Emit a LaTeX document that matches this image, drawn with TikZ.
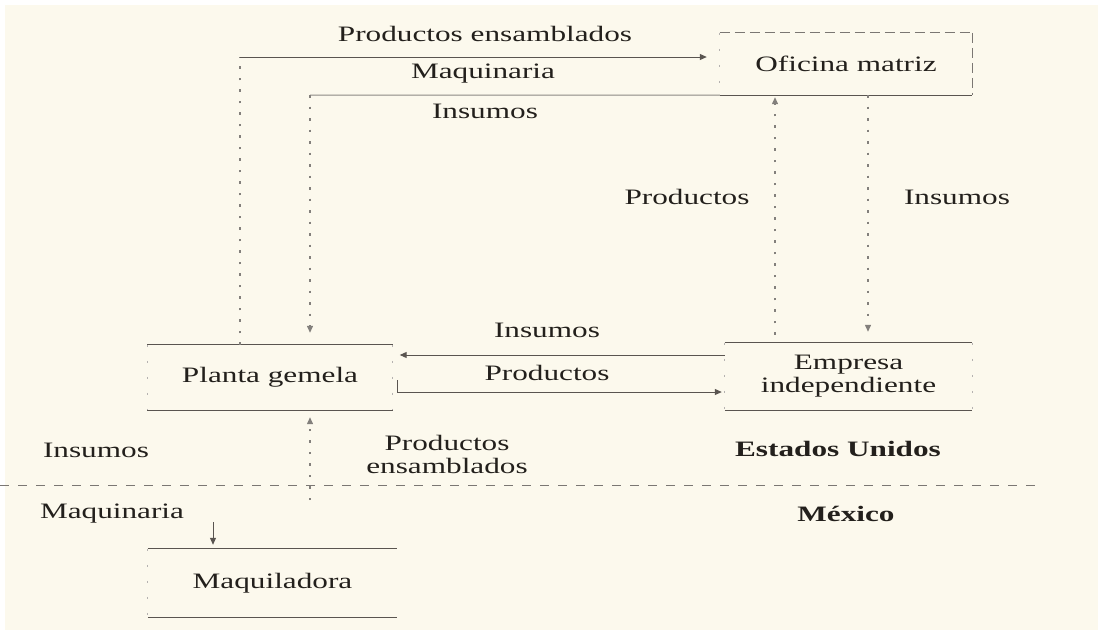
\documentclass[tikz,border=0pt]{standalone}
\usepackage{fontspec}
\setmainfont{Liberation Serif}[FakeStretch=1.42]
\usetikzlibrary{arrows.meta}
\definecolor{cream}{RGB}{252,249,237}
\definecolor{ink}{RGB}{35,32,28}
\definecolor{rulec}{RGB}{90,85,80}
\begin{document}
\begin{tikzpicture}[x=1pt,y=-1pt,
  lbl/.style={text=ink, font=\fontsize{22}{23}\selectfont, inner sep=0pt, align=center},
  boldlbl/.style={lbl, font=\fontsize{22}{23}\selectfont\bfseries},
  solidline/.style={draw=rulec, line width=1pt},
  lightline/.style={draw=rulec!70, line width=1pt},
  dashline/.style={draw=rulec!80, line width=1pt, dash pattern=on 10pt off 5pt},
  faint/.style={draw=rulec!75, line width=1.3pt, dash pattern=on 2.5pt off 9pt},
  sidefaint/.style={draw=rulec!45, line width=1.2pt, dash pattern=on 2pt off 14pt},
  arr/.style={-{Triangle[length=7pt,width=6pt]}},
]
\useasboundingbox (0,0) rectangle (1103,635);
\fill[white] (0,0) rectangle (1103,635);
\fill[cream] (5,5) rectangle (1098,630);

% boxes
\node[lbl, minimum width=252pt, minimum height=62pt] (om) at (846,64) {Oficina matriz};
\node[lbl, minimum width=245pt, minimum height=65pt] (pg) at (270,377.5) {Planta gemela};
\node[lbl, minimum width=247pt, minimum height=67pt] (ei) at (848.5,376.5) {Empresa\\independiente};
\node[lbl, minimum width=249pt, minimum height=68pt] (mq) at (272.5,583) {Maquiladora};

% box edges
\draw[dashline] (om.north west) -- (om.north east);
\draw[solidline] (om.south west) -- (om.south east);
\draw[dashline] (om.north east) -- (om.south east);
\draw[sidefaint] (om.north west) -- (om.south west);

\draw[solidline] (pg.north west) -- (pg.north east);
\draw[solidline] (pg.south west) -- (pg.south east);
\draw[sidefaint] (pg.north west) -- (pg.south west);
\draw[sidefaint] (pg.north east) -- (pg.south east);

\draw[solidline] (ei.north west) -- (ei.north east);
\draw[solidline] (ei.south west) -- (ei.south east);
\draw[sidefaint] (ei.north west) -- (ei.south west);
\draw[sidefaint] (ei.north east) -- (ei.south east);

\draw[solidline] (mq.north west) -- (mq.north east);
\draw[solidline] (mq.south west) -- (mq.south east);
\draw[sidefaint] (mq.north west) -- (mq.south west);

% helper coordinates
\coordinate (c1) at (240,57);
\coordinate (c2) at (310,95);
\coordinate (xP) at (775,0);
\coordinate (xI) at (868,0);
\coordinate (yI) at (0,355);
\coordinate (t1) at (397,380);
\coordinate (t2) at (397,392);
\coordinate (b1) at (310,500);
\coordinate (b2) at (213,522);
\coordinate (L) at (0,485);
\coordinate (R) at (1040,485);

% connectors
\draw[faint] (pg.north -| c1) -- (c1);
\draw[solidline, arr, shorten >=13pt] (c1) -- (om.west |- c1);
\draw[lightline] (om.south west) -- (c2);
\draw[faint, arr, shorten >=12pt] (c2) -- (pg.north -| c2);
\draw[faint, arr, shorten <=8pt, shorten >=2pt] (ei.north -| xP) -- (om.south -| xP);
\draw[faint, arr, shorten >=11pt] (om.south -| xI) -- (ei.north -| xI);
\draw[solidline, arr, shorten >=7pt] (ei.west |- yI) -- (pg.east |- yI);
\draw[solidline, arr, shorten >=3pt] (t1) -- (t2) -- (ei.west |- t2);
\draw[faint, arr, shorten >=7pt] (b1) -- (pg.south -| b1);
\draw[solidline, arr, shorten >=4pt] (b2) -- (mq.north -| b2);
\draw[draw=rulec!80, line width=1pt, dash pattern=on 9pt off 9pt] (L) -- (R);

% labels
\node[lbl] (l1) at (485,34) {Productos ensamblados};
\node[lbl] (l2) at (483,74) {Maquinaria};
\node[lbl] (l3) at (485,111) {Insumos};
\node[lbl] (l4) at (687,197) {Productos};
\node[lbl] (l5) at (957,197) {Insumos};
\node[lbl] (l6) at (547,330) {Insumos};
\node[lbl] (l7) at (547,373) {Productos};
\node[lbl] (l8) at (447,454) {Productos\\ensamblados};
\node[lbl] (l9) at (96,450) {Insumos};
\node[lbl] (l10) at (112,514) {Maquinaria};
\node[boldlbl] (l11) at (838,449) {Estados Unidos};
\node[boldlbl] (l12) at (846,514) {México};
\end{tikzpicture}
\end{document}
